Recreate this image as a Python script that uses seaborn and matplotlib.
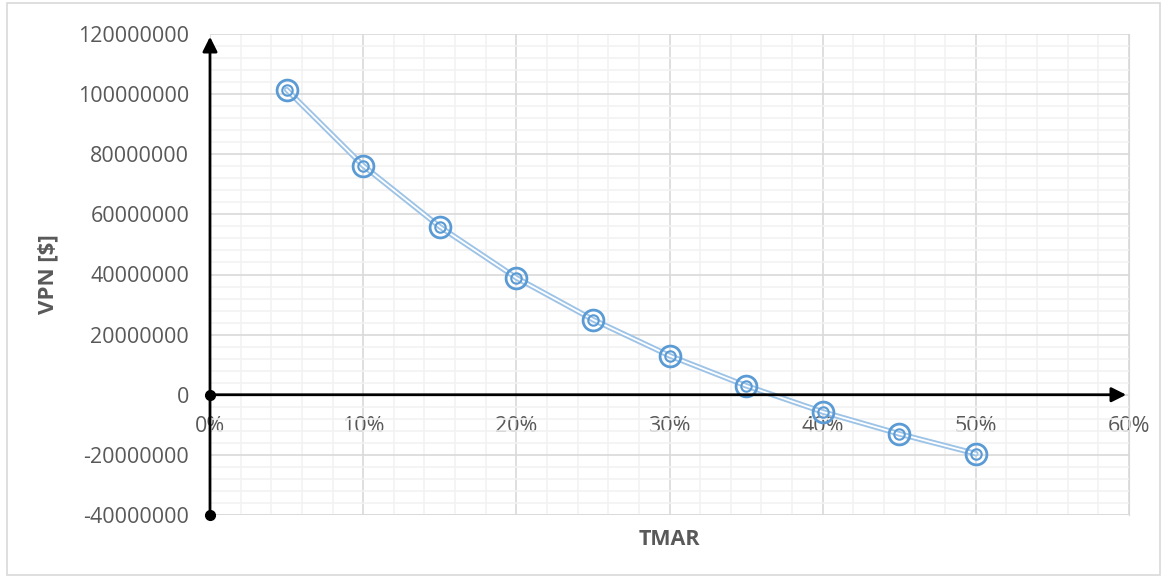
import numpy as np
import pandas as pd
import matplotlib
matplotlib.use("Agg")
import matplotlib.pyplot as plt
import seaborn as sns
from matplotlib.ticker import MultipleLocator, FuncFormatter
from matplotlib.patches import Rectangle

# data
tmar = [0.05, 0.10, 0.15, 0.20, 0.25, 0.30, 0.35, 0.40, 0.45, 0.50]
vpn = [101500000, 76200000, 55900000, 38900000, 25000000,
       13000000, 3000000, -5700000, -13000000, -19600000]
df = pd.DataFrame({"TMAR": tmar, "VPN": vpn})

sns.set_style("white")
plt.rcParams['font.family'] = ['Open Sans', 'DejaVu Sans']

fig = plt.figure(figsize=(11.67, 5.78), dpi=100)
ax = fig.add_axes([210/1167, 1 - 515/578, (1129 - 210)/1167, (515 - 34)/578])

# chart border
fig.patches.append(Rectangle((7/1167, 3/578), 1153/1167, 572/578, transform=fig.transFigure,
                             fill=False, edgecolor="#d9d9d9", linewidth=1.2))

ax.set_xlim(0, 0.6)
ax.set_ylim(-40000000, 120000000)
ax.xaxis.set_major_locator(MultipleLocator(0.1))
ax.xaxis.set_minor_locator(MultipleLocator(0.02))
ax.yaxis.set_major_locator(MultipleLocator(20000000))
ax.yaxis.set_minor_locator(MultipleLocator(4000000))
ax.xaxis.set_major_formatter(FuncFormatter(lambda v, p: f"{v*100:.0f}%"))
ax.yaxis.set_major_formatter(FuncFormatter(lambda v, p: f"{v:.0f}"))

ax.grid(which="minor", color="#f2f2f2", linewidth=1.2)
ax.grid(which="major", color="#d9d9d9", linewidth=1.2)
ax.set_axisbelow(True)

for s in ["top", "left"]:
    ax.spines[s].set_visible(False)
ax.spines["right"].set_color("#d9d9d9")
ax.spines["bottom"].set_visible(False)

# x labels sit just below the zero line
ax.spines["bottom"].set_position(("data", 0))
ax.tick_params(axis="both", which="both", length=0, labelsize=15.5, labelcolor="#595959")
ax.tick_params(axis="x", pad=15)
ax.tick_params(axis="y", pad=15)
ax.axhline(-40000000, color="#d9d9d9", linewidth=1.2, zorder=0)

# double line: light blue with a white core
sns.lineplot(data=df, x="TMAR", y="VPN", ax=ax, color="#9dc3e6", linewidth=4, zorder=3)
ax.plot(df["TMAR"], df["VPN"], color="white", linewidth=1.3, zorder=4)
ax.plot(df["TMAR"], df["VPN"], linestyle="none", marker="o", markersize=15,
        markerfacecolor="none", markeredgecolor="#5b9bd5", markeredgewidth=2, zorder=5)
ax.plot(df["TMAR"], df["VPN"], linestyle="none", marker="o", markersize=7.5,
        markerfacecolor="none", markeredgecolor="#5b9bd5", markeredgewidth=1.5, zorder=6)

# black arrow axes
ax.annotate("", xy=(0.6, 0), xytext=(0, 0),
            arrowprops=dict(arrowstyle="-|>", color="black", lw=2, mutation_scale=22), zorder=7)
ax.annotate("", xy=(0, 120000000), xytext=(0, -40000000),
            arrowprops=dict(arrowstyle="-|>", color="black", lw=2, mutation_scale=22), zorder=7)
ax.plot([0, 0], [0, -40000000], linestyle="none", marker="o", markersize=7,
        color="black", clip_on=False, zorder=8)

ax.set_xlabel("TMAR", fontsize=15.5, fontweight="bold", color="#595959")
ax.set_ylabel("VPN [$]", fontsize=16, fontweight="bold", color="#595959")
ax.xaxis.set_label_coords(0.5, -0.03)
ax.yaxis.set_label_coords(-0.165, 0.5)

fig.savefig("out.png", dpi=100)
